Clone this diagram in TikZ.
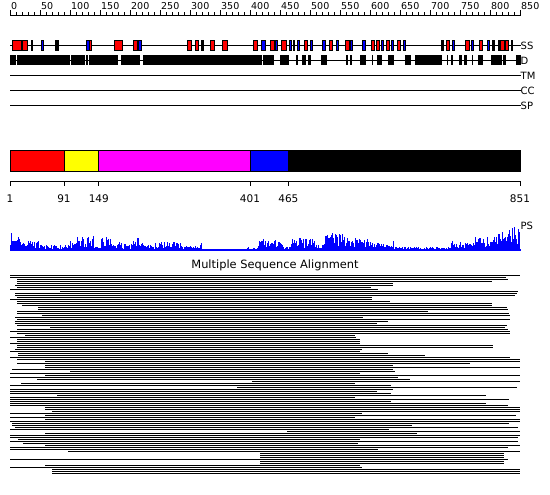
\documentclass[tikz,border=0pt]{standalone}
\usepackage{fontspec}
\setmainfont{DejaVu Sans}
\definecolor{psblue}{RGB}{0,0,255}
\definecolor{dmagenta}{RGB}{255,0,255}
\definecolor{dyellow}{RGB}{255,255,0}
\definecolor{dred}{RGB}{255,0,0}
\definecolor{dblue}{RGB}{0,0,255}
\begin{document}
\begin{tikzpicture}[x=1pt,y=-1pt,
  lab/.style={font=\fontsize{10}{12}\selectfont, inner sep=0pt, anchor=west},
  rulerlab/.style={font=\fontsize{9.5}{11}\selectfont, inner sep=0pt, anchor=base west},
  axlab/.style={font=\fontsize{10.5}{12}\selectfont, inner sep=0pt, anchor=base},
  track/.style={line width=1pt},
  ssbox/.style={draw=black, line width=0.7pt},
  dbox/.style={fill=black},
  segbox/.style={draw=black, line width=1pt},
  psbar/.style={draw=psblue, line width=0.6pt},
  msa/.style={line width=1pt}]
\useasboundingbox (0,0) rectangle (550,495);
% ruler
\draw[line width=1pt] (10,15.5) -- (520.5,15.5);
\foreach \i in {0,...,85} \draw[line width=0.8pt] ({10.5+6*\i},15.5) -- ({10.5+6*\i},12.5);
\foreach \v [count=\i from 0] in {0,50,...,850} {
  \draw[line width=0.8pt] ({10.5+30*\i},15.5) -- ({10.5+30*\i},10.5);
  \node[rulerlab] (r\v) at ({11+30*\i},10) {\v};
}
% tracks
\foreach \y in {45.5,60.5,75.5,90.5,105.5} \draw[track] (10,\y) -- (520.5,\y);
% SS
\foreach \a/\b/\c in {12/21/dred, 22/27/dred, 31/32.5/black, 41/43.5/dblue, 55/58/black, 86.5/89.5/dblue, 89.5/91.5/dred, 114.5/122.5/dred, 133/137/dred, 138/141.5/dblue, 187/191/dred, 195/198/dred, 201/203/black, 210.5/214.5/dred, 222.5/227/dred, 253.5/257.5/dred, 261.5/265/dblue, 270.5/274/dred, 275.5/277.5/dblue, 281/286/dred, 289/291/dblue, 293/294.5/black, 297/299/dblue, 304.5/307.5/dred, 310.5/312.5/dblue, 322.5/325/dblue, 329.5/332/dred, 336/338.5/dblue, 345/349.5/dred, 350.5/352.5/dblue, 362.5/365/dblue, 371.5/374/dred, 376.5/379/dred, 381/383/dblue, 386.5/389/dred, 391.5/393.5/dblue, 397.5/400/dred, 403/405.5/dblue, 441.5/443/black, 446.5/449.5/dred, 452/454/dblue, 465/469.5/dred, 471.5/473.5/dblue, 479/482/dred, 487/489/dblue, 492.5/494/black, 498/499.5/black, 500.5/504/dred, 505/508.5/dred, 511/512.5/black}
  \filldraw[ssbox, fill=\c] (\a,40.5) rectangle (\b,50.5);
% D
\foreach \a/\b in {10/15.7, 16.7/70, 71/85.3, 86.3/87.5, 89/117.7, 121/140, 142.7/262, 263.3/274, 280/289, 295.7/297.7, 301.7/305.7, 308/310.7, 321/326.7, 346/347.7, 350/351.7, 360/366, 371.7/373.3, 376.7/382.3, 388.3/394, 405/411, 415/441.7, 446.7/448.3, 450.7/453.3, 459.3/461.7, 464.3/466.7, 471.7/473.3, 478.3/482.7, 491/501.7, 502.7/505.7, 515.7/520.5}
  \fill[dbox] (\a,55.5) rectangle (\b,65.5);
\node[lab] (lss) at (520.5,45.5) {SS};
\node[lab] (ld) at (520.5,60.5) {D};
\node[lab] (ltm) at (520.5,75.5) {TM};
\node[lab] (lcc) at (520.5,90.5) {CC};
\node[lab] (lsp) at (520.5,105.5) {SP};
% domain bar
\foreach \a/\b/\c in {10/64/dred, 64/98.8/dyellow, 98.8/250/dmagenta, 250/288.4/dblue, 288.4/520/black}
  \filldraw[segbox, fill=\c] (\a,150.5) rectangle (\b,171.5);
\draw[line width=1pt] (10,181.5) -- (520,181.5);
\foreach \p/\x in {1/10, 91/64, 149/98.8, 401/250, 465/288.4, 851/520} {
  \draw[line width=1pt] (\x,181.5) -- (\x,186.5);
  \node[axlab] (a\p) at (\x,203) {\p};
}
% PS
\pgfmathsetseed{4711}
\foreach \a/\b/\h in {10/11/21, 12/17/10, 18/22/14, 23/27/8, 28/40/10, 41/67/5, 68/75/9, 76/93/15, 94/100/4, 101/110/13, 111/117/6, 118/125/8, 126/131/6, 132/138/14, 139/160/7, 161/180/9, 181/199/4, 200/201/7, 202/246/1.5, 247/257/3, 258/275/11, 276/283/9, 284/290/3, 291/314/13, 315/324/6, 325/345/17, 346/372/12, 373/388/7, 389/393/9, 394/416/3.5, 417/418/8, 419/450/3, 451/474/9, 475/494/13, 495/508/18, 509/519/24}
  \foreach \x in {\a,...,\b} {
    \draw[psbar] (\x,250) -- (\x,{250-\h*(0.15+0.85*rnd^1.6)});
    \draw[psbar] (\x+0.5,250) -- (\x+0.5,{250-\h*(0.15+0.85*rnd^1.6)});
  }
\draw[psblue, line width=1.6pt] (10,249.7) -- (520.5,249.7);
\node[lab] (lps) at (520.5,226) {PS};
% MSA
\node[font=\fontsize{11.4}{13}\selectfont, inner sep=0pt] (title) at (275,265.5) {Multiple Sequence Alignment};
\foreach \s/\e [count=\k from 0] in {10/520, 10/506, 17/508, 17/492, 17/393, 15/393, 17/371, 10/378, 60/518, 15/517, 15/515, 17/372, 10/372, 17/390, 17/492, 22/492, 38/507, 38/508, 17/428, 17/509, 42/510, 15/363, 17/510, 15/388, 15/377, 17/507, 50/505, 17/508, 10/510, 17/510, 25/355, 10/356, 17/360, 17/360, 10/360, 17/493, 17/493, 15/362, 10/360, 18/388, 18/425, 10/510, 17/520, 45/520, 17/470, 45/393,
 45/520, 12/393, 70/395, 10/360, 45/520, 10/398, 37/410, 252/520, 21/355, 10/391, 237/517, 10/393, 10/377, 10/391, 57/486, 10/355, 10/509, 10/391, 10/486, 10/508, 45/520, 45/520, 52/520, 10/362, 45/516, 10/355, 45/520, 10/520, 12/509, 12/412, 15/518, 10/389, 287/520, 45/417, 10/520, 10/518, 18/360, 10/518, 23/358, 45/520, 10/508, 10/378, 68/520, 260/504, 260/504, 260/504, 10/508, 260/504, 260/504, 45/360, 10/362, 52/520, 52/520, 52/520}
  \draw[msa] (\s,{275.5+2*\k}) -- (\e,{275.5+2*\k});
\end{tikzpicture}
\end{document}
